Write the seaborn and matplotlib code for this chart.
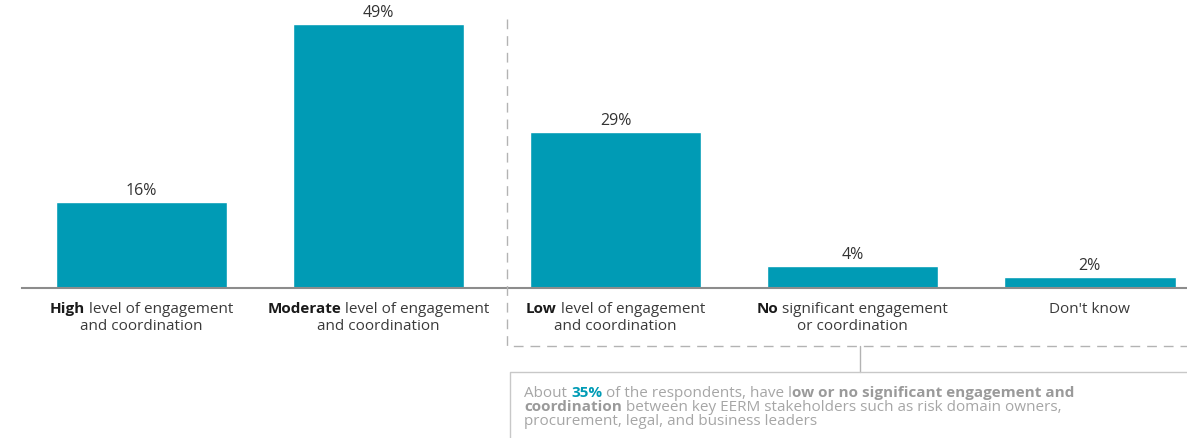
import matplotlib
matplotlib.use("Agg")
import matplotlib.pyplot as plt
import matplotlib.transforms as mtransforms
from matplotlib.lines import Line2D
import seaborn as sns
import pandas as pd

categories = ["High", "Moderate", "Low", "No", "Don't know"]
values = [16, 49, 29, 4, 2]
label_lines = [
    [[("High", "bold"), (" level of engagement", "normal")], [("and coordination", "normal")]],
    [[("Moderate", "bold"), (" level of engagement", "normal")], [("and coordination", "normal")]],
    [[("Low", "bold"), (" level of engagement", "normal")], [("and coordination", "normal")]],
    [[("No", "bold"), (" significant engagement", "normal")], [("or coordination", "normal")]],
    [[("Don't know", "normal")]],
]

TEAL = "#009bb5"
GREY = "#a6a6a6"
GREY_B = "#9a9a9a"
note_lines = [
    [("About ", "normal", GREY), ("35%", "bold", TEAL),
     (" of the respondents, have l", "normal", GREY),
     ("ow or no significant engagement and", "bold", GREY_B)],
    [("coordination", "bold", GREY_B),
     (" between key EERM stakeholders such as risk domain owners,", "normal", GREY)],
    [("procurement, legal, and business leaders", "normal", GREY)],
]

W, H = 1187, 439

sns.set_theme(style="white")
plt.rcParams["font.family"] = ["Open Sans", "DejaVu Sans"]

fig = plt.figure(figsize=(W / 100, H / 100), dpi=100)
ax = fig.add_axes([22 / W, (H - 289) / H, (W - 22) / W, (289 - 25) / H])

df = pd.DataFrame({"cat": categories, "val": values})
sns.barplot(data=df, x="cat", y="val", order=categories, color=TEAL,
            saturation=1, width=0.725, ax=ax)
ax.set_xlim(-0.504, 4.411)
ax.set_ylim(0, 49)
ax.set_xticks([])
ax.set_yticks([])
ax.set_xlabel("")
ax.set_ylabel("")
sns.despine(ax=ax, left=True, top=True, right=True)
ax.spines["bottom"].set_color("#8c8c8c")
ax.spines["bottom"].set_linewidth(1.5)

ax.bar_label(ax.containers[0], labels=[f"{v}%" for v in values],
             padding=3, fontsize=11.5, color="#333333")

renderer = fig.canvas.get_renderer()


def text_width(s, size, weight):
    t = fig.text(0, 0, s, fontsize=size, fontweight=weight)
    w = t.get_window_extent(renderer).width
    t.remove()
    return w


def rich_line(trans, x, y, segs, size, ha="center", dy=0):
    space = text_width("a a", size, "normal") - text_width("aa", size, "normal")
    pieces = []
    total = 0
    for seg in segs:
        s, weight = seg[0], seg[1]
        if len(seg) > 2:
            color = seg[2]
        else:
            color = "#1a1a1a" if weight == "bold" else "#3a3a3a"
        if s.startswith(" "):
            total += space
        s2 = s.strip()
        pieces.append((s2, weight, color, total))
        total += text_width(s2, size, weight)
        if s.endswith(" "):
            total += space
    start = -total / 2 if ha == "center" else 0
    for s2, weight, color, off in pieces:
        tr = mtransforms.offset_copy(trans, fig=fig, x=start + off, y=-dy, units="dots")
        fig.text(x, y, s2, transform=tr, fontsize=size, fontweight=weight,
                 color=color, ha="left", va="baseline")


xtrans = ax.get_xaxis_transform()
for i, lines in enumerate(label_lines):
    for li, segs in enumerate(lines):
        rich_line(xtrans, i, 0, segs, 11, dy=24 + li * 17)


def px(x, y):
    return x / W, 1 - y / H


# dashed bracket around the low / no group
dash = dict(color="#b3b3b3", lw=1, dashes=(7, 5), transform=fig.transFigure)
x0, y0 = px(507, 20)
x1, y1 = px(507, 347)
x2, _ = px(W, 347)
fig.add_artist(Line2D([x0, x1, x2], [y0, y1, y1], **dash))
cx, cy0 = px(860, 347)
_, cy1 = px(860, 373)
fig.add_artist(Line2D([cx, cx], [cy0, cy1], color="#b3b3b3", lw=1,
                      transform=fig.transFigure))
bx, by = px(510, 373)
fig.add_artist(Line2D([bx, bx, 1], [0, by, by], color="#c8c8c8", lw=1,
                      transform=fig.transFigure))

tx, ty = px(524, 397)
for li, segs in enumerate(note_lines):
    rich_line(fig.transFigure, tx, ty, segs, 11, ha="left", dy=li * 14)

fig.savefig("out.png", dpi=100)
